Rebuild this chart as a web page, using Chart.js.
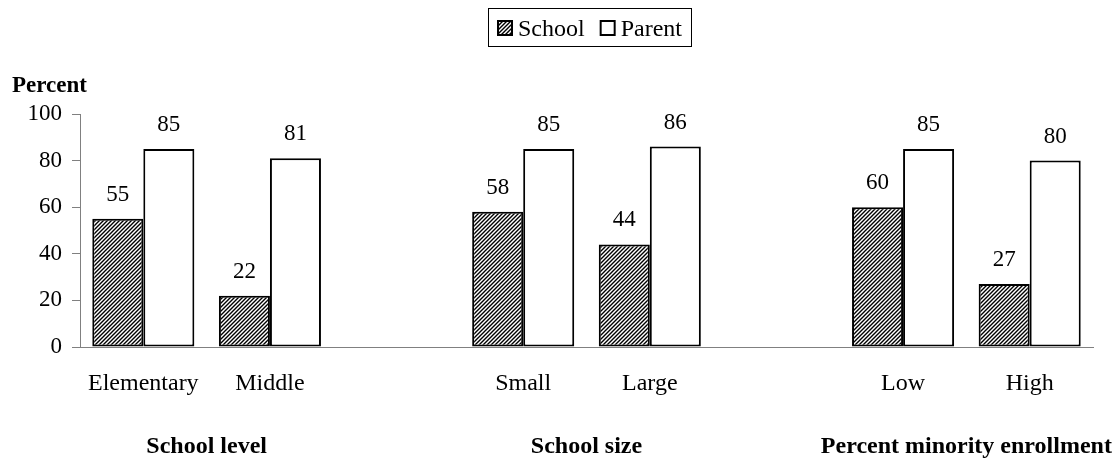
<!DOCTYPE html>
<html>
<head>
<meta charset="utf-8">
<script src="https://cdn.jsdelivr.net/npm/chart.js@4/dist/chart.umd.min.js"></script>
<style>
  html, body { margin: 0; padding: 0; background: #fff; }
  #caixa { width: 1116px; height: 458px; }
</style>
</head>
<body>
<div id="caixa"><canvas id="grafico"></canvas></div>
<script>
// Dados do gráfico (slots vazios separam os grupos)
const categorias = ["Elementary", "Middle", "", "Small", "Large", "", "Low", "High"];
const valoresSchool = [55, 22, null, 58, 44, null, 60, 27];
const valoresParent = [85, 81, null, 85, 86, null, 85, 80];
const nomesSeries = ["School", "Parent"];
const grupos = ["School level", "School size", "Percent minority enrollment"];
const grupoPrimeiro = [0, 3, 6];
const grupoUltimo = [1, 4, 7];
const ticksY = [0, 20, 40, 60, 80, 100];
const tituloY = "Percent";

const FONTE = "'Liberation Serif', 'Times New Roman', serif";
const CINZA = "#808080";

Chart.defaults.font.family = FONTE;
Chart.defaults.color = "#000";

const canvas = document.getElementById("grafico");
const ctxPrincipal = canvas.getContext("2d");

// Hachura diagonal para a série School
function criarHachura() {
  const c = document.createElement("canvas");
  c.width = 4;
  c.height = 4;
  const g = c.getContext("2d");
  g.fillStyle = "#fff";
  g.fillRect(0, 0, 4, 4);
  g.strokeStyle = "#000";
  g.lineWidth = 1.4;
  g.beginPath();
  g.moveTo(-1, 5); g.lineTo(5, -1);
  g.moveTo(-1, 1); g.lineTo(1, -1);
  g.moveTo(3, 5); g.lineTo(5, 3);
  g.stroke();
  return ctxPrincipal.createPattern(c, "repeat");
}
const hachura = criarHachura();

// Rótulos de valor, legenda com moldura, título do eixo e nomes dos grupos
const extras = {
  id: "extras",
  afterDatasetsDraw(chart) {
    const ctx = chart.ctx;
    const area = chart.chartArea;
    const x = chart.scales.x;
    ctx.save();
    ctx.fillStyle = "#000";

    // valores acima das barras
    ctx.font = "23px " + FONTE;
    ctx.textAlign = "center";
    ctx.textBaseline = "alphabetic";
    chart.data.datasets.forEach((ds, i) => {
      chart.getDatasetMeta(i).data.forEach((barra, j) => {
        if (ds.data[j] == null) return;
        ctx.fillText(ds.data[j], barra.x, barra.y - 18);
      });
    });

    // título do eixo Y
    ctx.font = "bold 23px " + FONTE;
    ctx.textAlign = "left";
    ctx.fillText(tituloY, 12, 92);

    // grupos abaixo das categorias
    ctx.font = "bold 24px " + FONTE;
    ctx.textAlign = "center";
    grupos.forEach((nome, k) => {
      const cx = (x.getPixelForValue(grupoPrimeiro[k]) + x.getPixelForValue(grupoUltimo[k])) / 2;
      ctx.fillText(nome, cx, 453);
    });

    // legenda
    ctx.font = "24px " + FONTE;
    const lado = 16, gap = 5, entre = 15, pad = 9;
    const larguras = nomesSeries.map(n => ctx.measureText(n).width);
    const total = pad * 2 + (lado + gap) * 2 + larguras[0] + larguras[1] + entre;
    const centro = (area.left + area.right) / 2 + 3;
    const bx = Math.round(centro - total / 2);
    ctx.strokeStyle = "#000";
    ctx.lineWidth = 1;
    ctx.strokeRect(bx + 0.5, 8.5, Math.round(total), 38);

    let px = bx + pad;
    const fundos = [hachura, "#fff"];
    ctx.textAlign = "left";
    nomesSeries.forEach((nome, k) => {
      ctx.fillStyle = fundos[k];
      ctx.fillRect(px, 20, lado, lado);
      ctx.lineWidth = 2;
      ctx.strokeRect(px + 1, 21, lado - 2, lado - 2);
      ctx.fillStyle = "#000";
      ctx.fillText(nome, px + lado + gap, 36);
      px += lado + gap + larguras[k] + entre;
    });

    ctx.restore();
  }
};

new Chart(canvas, {
  type: "bar",
  data: {
    labels: categorias,
    datasets: [
      {
        label: nomesSeries[0],
        data: valoresSchool,
        backgroundColor: hachura,
        borderColor: "#000",
        borderWidth: 2,
        borderSkipped: false
      },
      {
        label: nomesSeries[1],
        data: valoresParent,
        backgroundColor: "#fff",
        borderColor: "#000",
        borderWidth: 2,
        borderSkipped: false
      }
    ]
  },
  options: {
    responsive: true,
    maintainAspectRatio: false,
    animation: false,
    categoryPercentage: 0.806,
    barPercentage: 1,
    layout: { padding: { left: 0, top: 114, right: 23, bottom: 0 } },
    plugins: {
      legend: { display: false },
      tooltip: { enabled: false }
    },
    scales: {
      x: {
        grid: { display: false, drawTicks: false },
        border: { display: true, color: CINZA, width: 1 },
        ticks: { font: { size: 24 }, padding: 22, maxRotation: 0, autoSkip: false },
        afterFit(s) { s.height = 111; }
      },
      y: {
        min: 0,
        max: 100,
        afterBuildTicks(s) { s.ticks = ticksY.map(v => ({ value: v })); },
        grid: { display: true, drawOnChartArea: false, drawTicks: true, tickLength: 8, color: CINZA },
        border: { display: true, color: CINZA, width: 1 },
        ticks: { font: { size: 23 }, padding: 10 },
        afterFit(s) { s.width = 80; }
      }
    }
  },
  plugins: [extras]
});
</script>
</body>
</html>
